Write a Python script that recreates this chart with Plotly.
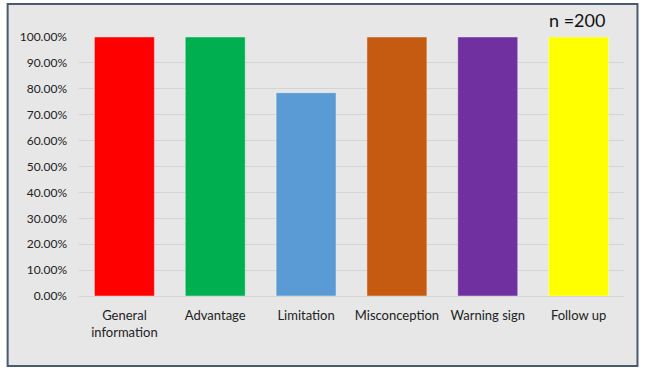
import plotly.graph_objects as go

categories = ["General<br>information", "Advantage", "Limitation", "Misconception", "Warning sign", "Follow up"]
values = [1.0, 1.0, 0.785, 1.0, 1.0, 1.0]
colors = ["#FF0000", "#00B050", "#5B9BD5", "#C55A11", "#7030A0", "#FFFF00"]
tick_vals = [i / 10 for i in range(11)]
tick_text = [f"{i*10:.2f}%" for i in range(11)]
note = "n =200"

W, H = 645, 371
L, R, T, B = 78.5, 624.5, 37, 296

def px(x):
    return (x - L) / (R - L)

def py(y):
    return (B - y) / (B - T)

fig = go.Figure(go.Bar(
    x=categories, y=values,
    marker=dict(color=colors, line=dict(color="rgba(255,255,255,0.5)", width=0.8)),
    width=0.66,
))

fig.add_shape(type="rect", xref="paper", yref="paper",
              x0=px(7), x1=px(638), y0=py(366), y1=py(4),
              fillcolor="#E7E7E7", line=dict(color="#4A5A70", width=2), layer="below")

fig.add_annotation(text=note, xref="paper", yref="paper", x=px(607), y=py(20),
                   xanchor="right", yanchor="middle", showarrow=False,
                   font=dict(size=18, color="#111111", family="Lato, Open Sans, sans-serif"))

fig.update_layout(
    width=W, height=H,
    margin=dict(l=L, r=W - R, t=T, b=H - B),
    paper_bgcolor="white", plot_bgcolor="rgba(0,0,0,0)",
    showlegend=False,
    font=dict(family="Lato, Open Sans, sans-serif", size=12, color="#222222"),
    xaxis=dict(showgrid=False, showline=False, ticks="", tickfont=dict(size=13),
               range=[-0.5, 5.5], ticklabelstandoff=10),
    yaxis=dict(range=[0, 1.0], tickvals=tick_vals, ticktext=tick_text,
               gridcolor="#D4D4D4", gridwidth=1, zeroline=True, zerolinecolor="#D4D4D4",
               zerolinewidth=1, showline=False, ticks="", ticklabelstandoff=11,
               tickfont=dict(size=12)),
)

fig.write_html("out.html", config={"displayModeBar": False},
               post_script="document.body.style.margin='0';")
